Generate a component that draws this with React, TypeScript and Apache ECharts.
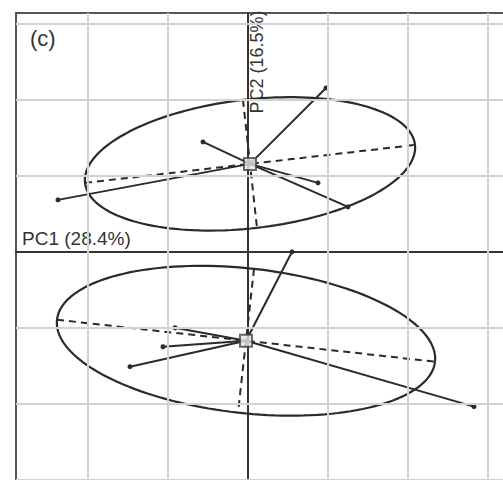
import React, { useEffect, useRef } from "react";
import * as echarts from "echarts";

// Group centroids (PC1, PC2)
const upperCenter = [0.025, 1.158];
const lowerCenter = [-0.025, -1.171];

// Confidence ellipses: end of the major half-axis and end of the minor half-axis
const upperMajorEnd = [2.0875, 1.408];
const upperMinorEnd = [0.1125, 0.316];
const lowerMajorEnd = [2.3375, -1.447];
const lowerMinorEnd = [-0.125, -2.118];

// Loading vector tips for each group
const upperLoadings = [
  [-2.375, 0.684],
  [-0.5625, 1.447],
  [0.975, 2.158],
  [0.875, 0.908],
  [1.25, 0.592],
];
const lowerLoadings = [
  [0.55, 0.0],
  [2.825, -2.039],
  [-1.0625, -1.25],
  [-1.475, -1.513],
  [-0.9125, -1.0],
];

// Reference grid positions
const gridX = [-2, -1, 1, 2, 3];
const gridY = [3, 2, 1, -1, -2, -3];

const axisLabels = { pc1: "PC1 (28.4%)", pc2: "PC2 (16.5%)", panel: "(c)" };

const INK = "#2a2a2a";

function ellipseOutline(c: number[], maj: number[], min: number[]) {
  const u = [maj[0] - c[0], maj[1] - c[1]];
  const v = [min[0] - c[0], min[1] - c[1]];
  const pts: number[][] = [];
  const n = 160;
  for (let i = 0; i <= n; i++) {
    const t = (i / n) * Math.PI * 2;
    pts.push([c[0] + u[0] * Math.cos(t) + v[0] * Math.sin(t), c[1] + u[1] * Math.cos(t) + v[1] * Math.sin(t)]);
  }
  return pts;
}

function opposite(c: number[], p: number[]) {
  return [2 * c[0] - p[0], 2 * c[1] - p[1]];
}

function groupSeries(c: number[], maj: number[], min: number[], loadings: number[][]) {
  const out: any[] = [];
  out.push({
    type: "line",
    data: ellipseOutline(c, maj, min),
    showSymbol: false,
    smooth: false,
    lineStyle: { color: INK, width: 2.2 },
    z: 3,
    silent: true,
  });
  [maj, min].forEach((end) => {
    out.push({
      type: "line",
      data: [opposite(c, end), end],
      showSymbol: false,
      lineStyle: { color: INK, width: 2, type: [7, 5] },
      z: 3,
      silent: true,
    });
  });
  loadings.forEach((tip) => {
    out.push({
      type: "line",
      data: [
        { value: c, symbol: "none" },
        { value: tip, symbol: "circle", symbolSize: 5 },
      ],
      showSymbol: true,
      itemStyle: { color: INK },
      lineStyle: { color: INK, width: 2 },
      z: 4,
      silent: true,
    });
  });
  return out;
}

export default function App() {
  const ref = useRef<HTMLDivElement>(null);

  useEffect(() => {
    if (!ref.current) return;
    const chart = echarts.init(ref.current, undefined, { renderer: "svg" });
    const font = "'Liberation Sans', Arial, sans-serif";

    const option: any = {
      animation: false,
      backgroundColor: "#ffffff",
      grid: {
        left: 16,
        top: 13,
        width: 504,
        height: 497,
        show: true,
        borderColor: "#555",
        borderWidth: 2,
        containLabel: false,
      },
      xAxis: {
        type: "value",
        min: -2.9,
        max: 3.4,
        axisLine: { show: true, onZero: true, lineStyle: { color: "#333", width: 2 } },
        axisTick: { show: false },
        axisLabel: { show: false },
        splitLine: { show: false },
      },
      yAxis: {
        type: "value",
        min: -3.4,
        max: 3.145,
        axisLine: { show: true, onZero: true, lineStyle: { color: "#333", width: 2 } },
        axisTick: { show: false },
        axisLabel: { show: false },
        splitLine: { show: false },
      },
      series: [
        {
          type: "line",
          data: [],
          z: 1,
          silent: true,
          markLine: {
            silent: true,
            symbol: "none",
            label: { show: false },
            lineStyle: { color: "#d2d2d2", width: 2, type: "solid" },
            data: [
              ...gridX.map((v) => ({ xAxis: v })),
              ...gridY.map((v) => ({ yAxis: v })),
            ],
          },
        },
        ...groupSeries(upperCenter, upperMajorEnd, upperMinorEnd, upperLoadings),
        ...groupSeries(lowerCenter, lowerMajorEnd, lowerMinorEnd, lowerLoadings),
        {
          type: "scatter",
          data: [upperCenter, lowerCenter],
          symbol: "rect",
          symbolSize: 12,
          itemStyle: { color: "#e6e6e6", borderColor: "#444", borderWidth: 2 },
          z: 6,
          silent: true,
        },
      ],
      graphic: [
        {
          type: "text",
          left: 30,
          top: 27,
          style: { text: axisLabels.panel, fontSize: 22, fontFamily: font, fill: "#333" },
        },
        {
          type: "text",
          left: 22,
          top: 229,
          style: { text: axisLabels.pc1, fontSize: 19, fontFamily: font, fill: "#333" },
        },
        {
          type: "text",
          x: 257,
          y: 62,
          rotation: Math.PI / 2,
          style: {
            text: axisLabels.pc2,
            fontSize: 18,
            fontFamily: font,
            fill: "#333",
            align: "center",
            verticalAlign: "middle",
          },
        },
      ],
    };

    chart.setOption(option);
    return () => chart.dispose();
  }, []);

  return (
    <div
      style={{
        position: "absolute",
        left: 0,
        top: 0,
        width: 503,
        height: 480,
        overflow: "hidden",
        background: "#fff",
      }}
    >
      <div ref={ref} style={{ width: 560, height: 520 }} />
    </div>
  );
}
